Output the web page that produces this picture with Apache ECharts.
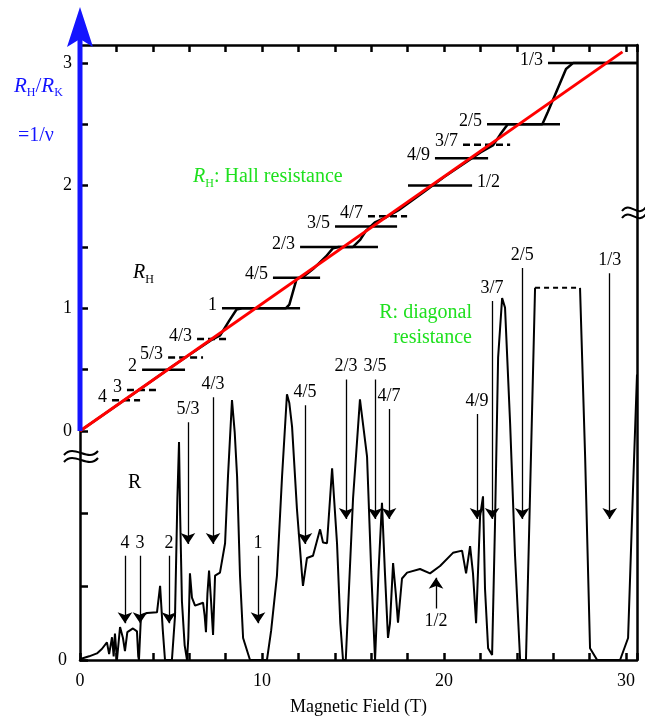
<!DOCTYPE html>
<html><head><meta charset="utf-8">
<script src="https://cdn.jsdelivr.net/npm/echarts@6/dist/echarts.min.js"></script>
<style>html,body{margin:0;padding:0;background:#fff}#c{width:645px;height:721px}</style>
</head><body><div id="c"></div>
<script>
// ---------- data ----------
const fieldLabels = [0, 10, 20, 30];
const hallTicks = [0, 0.5, 1, 1.5, 2, 2.5, 3];
const hallTickLabels = [0, 1, 2, 3];
const diagTicks = [0, 1, 2];
const diagTickLabels = [0];

const hallCurve = [[0,0],[3,0.31],[5,0.52],[6.5,0.67],[7.2,0.74],[7.7,0.78],[8.2,0.9],[8.6,0.99],[8.9,1.0],[11.3,1.0],[11.5,1.03],[11.9,1.24],[12.3,1.26],[12.8,1.32],[13.5,1.42],[13.9,1.49],[14.2,1.5],[15.0,1.5],[15.4,1.56],[15.7,1.63],[16.2,1.7],[16.8,1.74],[17.5,1.8],[19,1.96],[20,2.07],[21,2.17],[22,2.27],[22.7,2.33],[23.1,2.42],[23.5,2.5],[25.4,2.5],[25.7,2.6],[26.7,2.95],[27.1,3.0],[30.6,3.0]];
const fitLine = [[0,0],[29.8,3.09]];

const plateauNames  = ['4','3','2','5/3','4/3','1','4/5','2/3','3/5','4/7','1/2','4/9','3/7','2/5','1/3'];
const plateauLevels = [0.25,0.3333,0.5,0.6,0.75,1,1.25,1.5,1.6667,1.75,2,2.2222,2.3333,2.5,3];
const plateauStart  = [1.76,2.58,3.41,4.84,6.43,7.80,10.6,12.09,14.01,15.82,18.02,19.5,21.04,22.36,25.71];
const plateauEnd    = [3.30,4.29,5.77,6.76,8.08,12.09,13.19,16.37,17.42,17.97,21.54,22.42,23.63,26.37,30.6];

const diagCurveLow = [[0,0],[0.11,0.02],[0.5,0.05],[0.93,0.09],[1.2,0.15],[1.48,0.24],[1.6,0.08],[1.76,0.31],[1.85,0.05],[1.92,0.36],[2.03,0],[2.2,0.45],[2.36,0.3],[2.47,0.12],[2.6,0.38],[2.91,0.43],[3.13,0.39],[3.2,0.05],[3.24,0],[3.35,0.61],[3.68,0.64],[4.23,0.65],[4.4,1.01],[4.55,0.4],[4.67,0],[5.05,0],[5.22,0.6],[5.35,2.2],[5.44,2.97],[5.5,2.0],[5.6,0.8],[5.75,0.2],[5.88,0],[5.95,0.3],[6.04,1.18],[6.15,0.85],[6.32,0.74],[6.76,0.78],[6.85,0.6],[6.92,0.38],[7.0,0.9],[7.09,1.22],[7.2,0.8],[7.31,0.34],[7.42,1.15],[7.69,1.19],[7.97,1.59],[8.13,2.5],[8.35,3.54],[8.5,3.1],[8.63,2.5],[8.79,1.15],[8.96,0.3],[9.34,0],[10.27,0],[10.5,0.4],[10.82,1.15],[11.1,2.5],[11.37,3.62],[11.5,3.5],[11.65,3.18],[11.92,2.05],[12.2,1.15],[12.25,1.01],[12.47,1.39],[12.8,1.42],[13.19,1.78],[13.35,1.6],[13.57,1.59],[13.85,2.61],[14.12,1.59],[14.3,0.5],[14.45,0],[14.6,0],[15.0,2.2],[15.38,3.55],[15.77,2.77],[16.0,1.2],[16.21,0],[16.4,1.2],[16.59,2.14],[16.75,1.2],[16.92,0.3],[17.03,0.5],[17.2,1.32],[17.35,0.9],[17.47,0.51],[17.69,1.11],[17.97,1.19],[18.68,1.24],[19.23,1.18],[19.78,1.28],[20.49,1.46],[20.99,1.49],[21.21,1.18],[21.43,1.55],[21.59,1.18],[21.76,0.5],[21.98,1.96],[22.14,2.23],[22.25,0.97],[22.42,0.16],[22.64,0.07],[22.8,1.86],[22.97,4.12],[23.19,4.93],[23.35,4.8],[23.63,3.22],[23.9,1.42],[24.18,0],[24.5,0],[24.73,2.32],[25.0,5.07]];
const diagOffScale = [[25.0,5.07],[27.47,5.07]];
const diagCurveHigh = [[27.47,5.07],[27.75,2.77],[28.02,0.16],[28.41,0],[29.67,0],[30.11,0.3],[30.38,2.32],[30.6,3.89]];

const arrowNames = ['4','3','2','5/3','4/3','1','4/5','2/3','3/5','4/7','4/9','3/7','2/5','1/3'];
const arrowField = [2.47,3.30,4.89,5.93,7.31,9.78,12.36,14.62,16.21,16.98,21.81,22.64,24.29,29.1];
const arrowTop   = [1.42,1.42,1.42,3.24,3.58,1.42,3.47,3.82,3.82,3.42,3.35,4.89,5.34,5.27];
const arrowTip   = [0.5,0.5,0.5,1.58,1.58,0.5,1.58,1.92,1.92,1.92,1.92,1.92,1.92,1.92];
const upArrowName = ['1/2'];
const upArrowField = [19.56];
const upArrowFrom = [0.70];
const upArrowTo = [1.12];

// ---------- styles ----------
const SERIF = 'Liberation Serif';
const BLUE = '#1414ff';
const GREEN = '#1ee01e';
const dashedPlateaus = new Set(['4','3','5/3','4/3','4/7','3/7']);
const labelRight = new Set(['1/2']);

const chart = echarts.init(document.getElementById('c'));
const xMax = 30.6;
const axisBlack = {onZero:false, lineStyle:{color:'#000', width:2.5}};

const series = [];
plateauNames.forEach((n,i)=>{
  series.push({
    type:'line', xAxisIndex:0, yAxisIndex:0, symbol:'none', z:2, silent:true,
    lineStyle:{color:'#000', width:2.5, type: dashedPlateaus.has(n)?[7,4]:'solid'},
    data:[[plateauStart[i],plateauLevels[i]],[plateauEnd[i],plateauLevels[i]]]
  });
});
series.push({
  type:'scatter', xAxisIndex:0, yAxisIndex:0, symbolSize:0, z:5, silent:true, itemStyle:{opacity:1},
  data: plateauNames.map((n,i)=>({
    value: labelRight.has(n)?[plateauEnd[i],plateauLevels[i]]:[plateauStart[i],plateauLevels[i]],
    label:{show:true, formatter:n, position: labelRight.has(n)?'right':'left', distance:5, offset:[0,-3],
      fontFamily:SERIF, fontSize:18, color:'#000'}
  }))
});
series.push({type:'line', xAxisIndex:0, yAxisIndex:0, symbol:'none', z:3, silent:true,
  lineStyle:{color:'#000', width:2.5}, data:hallCurve});
series.push({type:'line', xAxisIndex:0, yAxisIndex:0, symbol:'none', z:4, silent:true,
  lineStyle:{color:'#ff0000', width:3}, data:fitLine});
series.push({type:'line', xAxisIndex:1, yAxisIndex:1, symbol:'none', z:3, silent:true,
  lineStyle:{color:'#000', width:2}, data:diagCurveLow});
series.push({type:'line', xAxisIndex:1, yAxisIndex:1, symbol:'none', z:3, silent:true,
  lineStyle:{color:'#000', width:2, type:[5,4]}, data:diagOffScale});
series.push({type:'line', xAxisIndex:1, yAxisIndex:1, symbol:'none', z:3, silent:true,
  lineStyle:{color:'#000', width:2}, data:diagCurveHigh});
series.push({type:'lines', coordinateSystem:'cartesian2d', xAxisIndex:1, yAxisIndex:1, z:4, silent:true,
  symbol:['none','arrow'], symbolSize:11,
  lineStyle:{color:'#000', width:1.3, opacity:1},
  data: arrowNames.map((n,i)=>({coords:[[arrowField[i],arrowTop[i]],[arrowField[i],arrowTip[i]]]}))
    .concat(upArrowName.map((n,i)=>({coords:[[upArrowField[i],upArrowFrom[i]],[upArrowField[i],upArrowTo[i]]]})))
});
series.push({type:'scatter', xAxisIndex:1, yAxisIndex:1, symbolSize:0, z:5, silent:true, itemStyle:{opacity:1},
  data: arrowNames.map((n,i)=>({value:[arrowField[i],arrowTop[i]],
    label:{show:true, formatter:n, position:'top', distance:4, fontFamily:SERIF, fontSize:18, color:'#000'}}))
    .concat(upArrowName.map((n,i)=>({value:[upArrowField[i],upArrowFrom[i]],
    label:{show:true, formatter:n, position:'bottom', distance:4, fontFamily:SERIF, fontSize:18, color:'#000'}})))
});

const gridLeft = 80, gridRight = 8, gridTop = 45;
const upperH = 386, lowerH = 620;
const hallMax = upperH/122.7;
const diagMax = lowerH/74;

const option = {
  animation:false,
  grid:[
    {left:gridLeft, right:gridRight, top:gridTop, height:upperH},
    {left:gridLeft, right:gridRight, top:gridTop, height:lowerH}
  ],
  xAxis:[
    {gridIndex:0, type:'value', position:'top', min:0, max:xMax, interval:2,
     axisLine:axisBlack, axisTick:{inside:true, length:7, lineStyle:{color:'#000', width:2.5}},
     axisLabel:{show:false}, splitLine:{show:false}},
    {gridIndex:1, type:'value', position:'bottom', min:0, max:xMax, interval:2,
     axisLine:axisBlack, axisTick:{inside:true, length:7, lineStyle:{color:'#000', width:2.5}},
     axisLabel:{customValues:fieldLabels, margin:12, fontFamily:SERIF, fontSize:18, color:'#000'},
     splitLine:{show:false},
     name:'Magnetic Field (T)', nameLocation:'middle', nameGap:38,
     nameTextStyle:{fontFamily:SERIF, fontSize:18, color:'#000'}}
  ],
  yAxis:[
    {gridIndex:0, type:'value', min:0, max:hallMax, position:'left',
     axisLine:{show:false, onZero:false},
     axisTick:{inside:true, length:8, customValues:hallTicks, lineStyle:{color:'#000', width:2.5}},
     axisLabel:{customValues:hallTickLabels, margin:8, fontFamily:SERIF, fontSize:18, color:'#000'},
     splitLine:{show:false}},
    {gridIndex:1, type:'value', min:0, max:diagMax, position:'left',
     axisLine:axisBlack,
     axisTick:{inside:true, length:8, customValues:diagTicks, lineStyle:{color:'#000', width:2.5}},
     axisLabel:{customValues:diagTickLabels, margin:13, fontFamily:SERIF, fontSize:18, color:'#000'},
     splitLine:{show:false}},
    {gridIndex:1, type:'value', min:0, max:diagMax, position:'right',
     axisLine:axisBlack, axisTick:{show:false}, axisLabel:{show:false}, splitLine:{show:false}}
  ],
  series: series,
  graphic:[
    {type:'line', z:100, shape:{x1:80,y1:431,x2:80,y2:38}, style:{stroke:BLUE, lineWidth:5}},
    {type:'polygon', z:100, shape:{points:[[80,7],[93,47],[80,39],[67,47]]}, style:{fill:BLUE}},
    {type:'bezierCurve', z:100, shape:{x1:64,y1:455,cpx1:74,cpy1:443,cpx2:88,cpy2:463,x2:98,y2:451}, style:{stroke:'#000', lineWidth:2, fill:null}},
    {type:'bezierCurve', z:100, shape:{x1:64,y1:462,cpx1:74,cpy1:450,cpx2:88,cpy2:470,x2:98,y2:458}, style:{stroke:'#000', lineWidth:2, fill:null}},
    {type:'bezierCurve', z:100, shape:{x1:622,y1:211,cpx1:630,cpy1:200,cpx2:638,cpy2:219,x2:646,y2:207}, style:{stroke:'#000', lineWidth:2, fill:null}},
    {type:'bezierCurve', z:100, shape:{x1:622,y1:218,cpx1:630,cpy1:207,cpx2:638,cpy2:226,x2:646,y2:214}, style:{stroke:'#000', lineWidth:2, fill:null}},
    {type:'text', z:100, x:14, y:86, style:{text:'{i|R}{s|H}{n|/}{i|R}{s|K}', verticalAlign:'middle',
      rich:{i:{fontFamily:SERIF, fontStyle:'italic', fontSize:21, fill:BLUE, color:BLUE, lineHeight:26},
            n:{fontFamily:SERIF, fontSize:21, fill:BLUE, color:BLUE, lineHeight:26},
            s:{fontFamily:SERIF, fontSize:12, fill:BLUE, color:BLUE, verticalAlign:'bottom'}}}},
    {type:'text', z:100, x:18, y:136, style:{text:'=1/ν', fontFamily:SERIF, fontSize:20, fill:BLUE, verticalAlign:'middle'}},
    {type:'text', z:100, x:193, y:177, style:{text:'{i|R}{s|H}{n|: Hall resistance}', verticalAlign:'middle',
      rich:{i:{fontFamily:SERIF, fontStyle:'italic', fontSize:20, fill:GREEN, color:GREEN, lineHeight:26},
            n:{fontFamily:SERIF, fontSize:20, fill:GREEN, color:GREEN, lineHeight:26},
            s:{fontFamily:SERIF, fontSize:12, fill:GREEN, color:GREEN, verticalAlign:'bottom'}}}},
    {type:'text', z:100, x:133, y:273, style:{text:'{i|R}{s|H}', verticalAlign:'middle',
      rich:{i:{fontFamily:SERIF, fontStyle:'italic', fontSize:20, fill:'#000', color:'#000', lineHeight:26},
            s:{fontFamily:SERIF, fontSize:12, fill:'#000', color:'#000', verticalAlign:'bottom'}}}},
    {type:'text', z:100, x:128, y:483, style:{text:'R', fontFamily:SERIF, fontSize:20, fill:'#000', verticalAlign:'middle'}},
    {type:'text', z:100, x:472, y:313, style:{text:'R: diagonal', fontFamily:SERIF, fontSize:20, fill:GREEN, align:'right', verticalAlign:'middle'}},
    {type:'text', z:100, x:472, y:338, style:{text:'resistance', fontFamily:SERIF, fontSize:20, fill:GREEN, align:'right', verticalAlign:'middle'}}
  ]
};
chart.setOption(option);
</script></body></html>
